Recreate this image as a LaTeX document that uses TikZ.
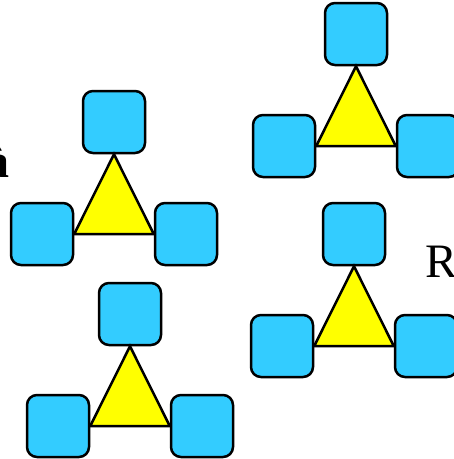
\documentclass[tikz,border=0pt]{standalone}
\usepackage{fontspec}
\setmainfont{Liberation Serif}
\definecolor{sqblue}{HTML}{33CCFF}
\definecolor{triyellow}{HTML}{FFFF00}
\tikzset{
  sq/.style={draw=black, fill=sqblue, line width=2.5pt, rounded corners=10pt, minimum size=62pt, inner sep=0pt},
  tri/.style={draw=black, fill=triyellow, line width=2.5pt, line join=miter},
  bigtext/.style={inner sep=0pt, font=\fontsize{48}{58}\selectfont}
}
\begin{document}
\begin{tikzpicture}[x=1pt, y=-1pt]
\useasboundingbox (0,0) rectangle (454,459);
\clip (0,0) rectangle (454,459);
% group 1 (top right)
\node[sq] (at) at (356,34) {};
\node[sq] (al) at (284,146) {};
\node[sq] (ar) at (428,146) {};
\draw[tri] (at.south) -- (al.east) -- (ar.west) -- cycle;
% group 2 (left middle)
\node[sq] (bt) at (114,122) {};
\node[sq] (bl) at (42,234) {};
\node[sq] (br) at (186,234) {};
\draw[tri] (bt.south) -- (bl.east) -- (br.west) -- cycle;
% group 3 (bottom left)
\node[sq] (ct) at (130,314) {};
\node[sq] (cl) at (58,426) {};
\node[sq] (cr) at (202,426) {};
\draw[tri] (ct.south) -- (cl.east) -- (cr.west) -- cycle;
% group 4 (right middle)
\node[sq] (dt) at (354,234) {};
\node[sq] (dl) at (282,346) {};
\node[sq] (dr) at (426,346) {};
\draw[tri] (dt.south) -- (dl.east) -- (dr.west) -- cycle;
% texts
\node[bigtext, anchor=base east] (ta) at (10,177) {\bfseries à};
\node[bigtext, anchor=base west] (tr) at (425,277) {R};
\end{tikzpicture}
\end{document}
